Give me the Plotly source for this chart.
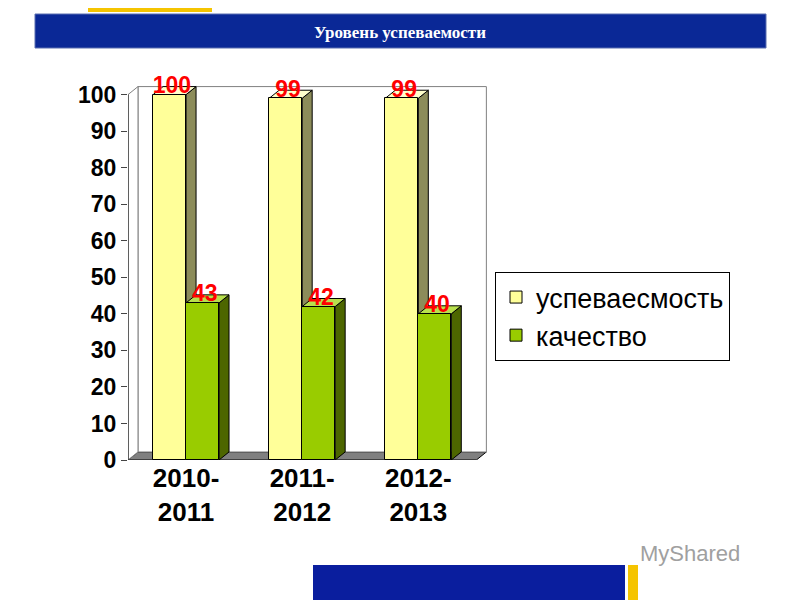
import plotly.graph_objects as go

# Data
years = ["2010-<br>2011", "2011-<br>2012", "2012-<br>2013"]
uspev = [100, 99, 99]
kach = [43, 42, 40]
names = ["успеваесмость", "качество"]

xs = [0, 1, 2]
w = 0.284
dx, dy = 0.086, 2.2

# pixel (target) -> paper coordinates
def px(x):
    return (x - 128) / 360

def py(y):
    return (460 - y) / 380

fig = go.Figure()

shapes = []
# walls and floor
shapes.append(dict(type="path", xref="x", yref="y", layer="below",
                   path=f"M -0.5 0 L {-0.5+dx} {dy} L {2.5+dx} {dy} L 2.5 0 Z",
                   fillcolor="#808080", line=dict(color="black", width=1)))
shapes.append(dict(type="rect", xref="x", yref="y", layer="below",
                   x0=-0.5+dx, x1=2.5+dx, y0=dy, y1=100+dy,
                   fillcolor="white", line=dict(color="#808080", width=1)))
shapes.append(dict(type="path", xref="x", yref="y", layer="below",
                   path=f"M -0.5 0 L {-0.5+dx} {dy} L {-0.5+dx} {100+dy} L -0.5 100 Z",
                   fillcolor="white", line=dict(color="#808080", width=1)))

def box3d(xc, v, side, top):
    x0, x1 = xc - w/2, xc + w/2
    shapes.append(dict(type="path", xref="x", yref="y", layer="below",
                       path=f"M {x1} 0 L {x1+dx} {dy} L {x1+dx} {v+dy} L {x1} {v} Z",
                       fillcolor=side, line=dict(color="black", width=1)))
    shapes.append(dict(type="path", xref="x", yref="y", layer="below",
                       path=f"M {x0} {v} L {x0+dx} {v+dy} L {x1+dx} {v+dy} L {x1} {v} Z",
                       fillcolor=top, line=dict(color="black", width=1)))

xa = [x - w/2 for x in xs]
xb = [x + w/2 for x in xs]
for x, v in zip(xa, uspev):
    box3d(x, v, "#8C8C5A", "#FFFFCC")
for x, v in zip(xb, kach):
    box3d(x, v, "#4D6600", "#B8E04D")

fig.add_trace(go.Bar(x=xa, y=uspev, width=w, name=names[0],
                     marker=dict(color="#FFFF99", line=dict(color="black", width=1))))
fig.add_trace(go.Bar(x=xb, y=kach, width=w, name=names[1],
                     marker=dict(color="#99CC00", line=dict(color="black", width=1))))

fig.add_trace(go.Scatter(x=[x + 0.02 for x in xa + xb], y=[v + 2 for v in uspev + kach],
                         mode="text", text=[f"<b>{v}</b>" for v in uspev + kach],
                         showlegend=False,
                         textfont=dict(color="#FF0000", size=23, family="Arial"),
                         cliponaxis=False, hoverinfo="skip"))

# banner, decorations
shapes += [
    dict(type="rect", xref="paper", yref="paper", x0=px(88), x1=px(212), y0=py(12), y1=py(-10),
         fillcolor="#F5C400", line_width=0),
    dict(type="rect", xref="paper", yref="paper", x0=px(35), x1=px(766), y0=py(48), y1=py(14),
         fillcolor="#0A2896", line=dict(color="#5A6FB0", width=1)),
    dict(type="rect", xref="paper", yref="paper", x0=px(313), x1=px(625), y0=py(610), y1=py(565),
         fillcolor="#0A1E9E", line_width=0),
    dict(type="rect", xref="paper", yref="paper", x0=px(628), x1=px(638), y0=py(610), y1=py(565),
         fillcolor="#F5C400", line_width=0),
]

fig.add_annotation(x=px(400), y=py(32), xref="paper", yref="paper", showarrow=False,
                   xanchor="center", yanchor="middle",
                   text="<b>Уровень успеваемости</b>",
                   font=dict(family="Liberation Serif", size=17, color="white"))
fig.add_annotation(x=px(690), y=py(553), xref="paper", yref="paper", showarrow=False,
                   xanchor="center", yanchor="middle",
                   text="MyShared", font=dict(family="Arial", size=22, color="#A0A0A0"))

fig.update_layout(
    width=800, height=600,
    margin=dict(l=120, r=320, t=72, b=148),
    plot_bgcolor="white", paper_bgcolor="white",
    shapes=shapes,
    bargap=0,
    xaxis=dict(range=[-0.5, 2.6], tickvals=xs, ticktext=[f"<b>{y}</b>" for y in years],
               showgrid=False, zeroline=False, showline=False, ticks="",
               tickfont=dict(family="Arial", size=26, color="black")),
    yaxis=dict(range=[0, 104], tickvals=list(range(0, 101, 10)),
               ticktext=[f"<b>{v}</b>" for v in range(0, 101, 10)],
               showgrid=False, zeroline=False, ticks="outside", ticklen=6,
               tickfont=dict(family="Arial", size=23, color="black")),
    legend=dict(x=px(495), y=py(272), xanchor="left", yanchor="top",
                bordercolor="black", borderwidth=1, bgcolor="white",
                font=dict(family="Arial", size=27, color="black"), traceorder="normal",
                itemwidth=30),
)
fig.add_shape(type="line", xref="x", yref="y", x0=-0.5, x1=-0.5, y0=0, y1=100,
              line=dict(color="black", width=1))

fig.write_html("out.html")
